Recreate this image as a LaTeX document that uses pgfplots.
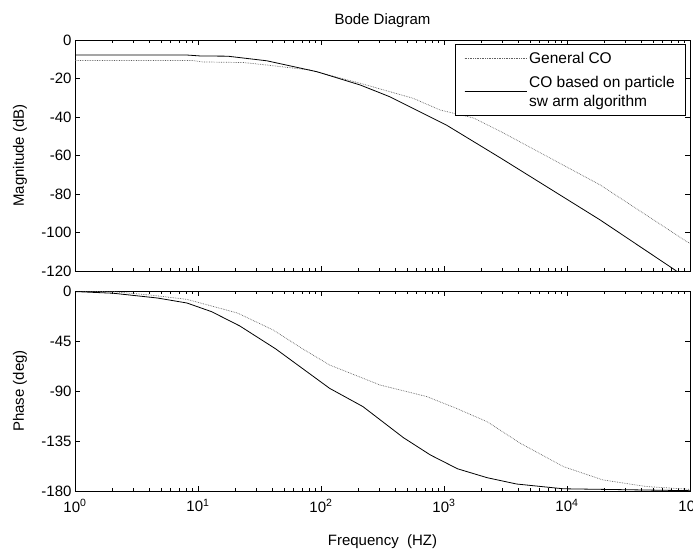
\documentclass[border=0pt]{standalone}
\usepackage{fontspec}
\setmainfont{Liberation Sans}
\usepackage{pgfplots}
\pgfplotsset{compat=1.18}
\begin{document}
\begin{tikzpicture}[x=1pt,y=1pt,font=\fontsize{15}{17}\selectfont]
\path[use as bounding box] (0,0) rectangle (693,-552);
% Magnitude
\begin{axis}[scale only axis, width=615pt, xmode=log, xmin=1, xmax=1e5,
  xtick={1,10,100,1000,10000,100000},
  tick align=inside, major tick length=5pt, minor tick length=3pt,
  axis line style={line width=0.8pt},
  every tick/.style={black, line width=0.5pt},
  tick label style={font=\fontsize{15}{17}\selectfont},
  label style={font=\fontsize{15}{17}\selectfont},
  ylabel style={at={(axis description cs:-0.0894,0.5)}, rotate=0, anchor=center},
  at={(75pt,-40pt)}, anchor=north west, height=231pt,
  ymin=-120, ymax=0, ytick={-120,-100,-80,-60,-40,-20,0},
  yticklabels={-120,-100,-80,-60,-40,-20,0},
  xticklabels={},
  ylabel={Magnitude (dB)},
  title={Bode Diagram},
  title style={at={(axis description cs:0.5,1.06)}, anchor=center, font=\fontsize{15}{17}\selectfont},
  legend style={at={(axis description cs:0.9935,0.983)}, anchor=north east, draw=black, line width=0.6pt,
    font=\fontsize{15.5}{19}\selectfont, cells={anchor=west, align=left}, row sep=7pt, inner xsep=9pt, inner ysep=6pt},
  legend image code/.code={\path (0pt,0pt) -- (62pt,0pt); \draw[#1] (0pt,0pt) -- (54pt,0pt);},
]
\addplot[gray!75!black, densely dotted, line width=0.7pt] coordinates {
(1,-10.7) (9.1,-10.7) (11,-11.4) (23.4,-11.7) (36.3,-13) (81,-15.6) (209,-22.5)
(562,-30.3) (933,-36.4) (1738,-40.5) (2884,-47.5) (18620,-75.3) (95500,-105) (100000,-105.5)};
\addlegendentry{General CO}
\addplot[black, line width=0.8pt] coordinates {
(1,-7.8) (8.1,-7.8) (10.5,-8.3) (17.4,-8.4) (36.3,-10.8) (93,-16.5) (209,-23.4)
(363,-29.5) (1047,-44.2) (2884,-61.3) (18620,-93.5) (77600,-120)};
\addlegendentry{CO based on particle\\sw arm algorithm}
\end{axis}
% Phase
\begin{axis}[scale only axis, width=615pt, xmode=log, xmin=1, xmax=1e5,
  xtick={1,10,100,1000,10000,100000},
  tick align=inside, major tick length=5pt, minor tick length=3pt,
  axis line style={line width=0.8pt},
  every tick/.style={black, line width=0.5pt},
  tick label style={font=\fontsize{15}{17}\selectfont},
  label style={font=\fontsize{15}{17}\selectfont},
  ylabel style={at={(axis description cs:-0.0894,0.5)}, rotate=0, anchor=center},
  xticklabel style={yshift=-5pt},
  at={(75pt,-291pt)}, anchor=north west, height=200pt,
  ymin=-180, ymax=0, ytick={-180,-135,-90,-45,0},
  yticklabels={-180,-135,-90,-45,0},
  xticklabels={10\textsuperscript{0},10\textsuperscript{1},10\textsuperscript{2},10\textsuperscript{3},10\textsuperscript{4},10\textsuperscript{5}},
  ylabel={Phase (deg)},
  xlabel={Frequency \ (HZ)},
  xlabel style={at={(axis description cs:0.5,-0.255)}, anchor=center},
]
\addplot[gray!75!black, densely dotted, line width=0.7pt] coordinates {
(1,-0.3) (2.04,-0.6) (4.07,-3.6) (8.13,-7.5) (20.9,-19.8) (40.7,-35) (70.8,-52)
(117.5,-66.6) (302,-84.6) (724,-95) (1259,-105.6) (2239,-117.6) (4169,-137)
(9333,-158) (19500,-170) (44670,-176) (100000,-178.5)};
\addplot[black, line width=0.8pt] coordinates {
(1,-0.5) (2.04,-2) (4.68,-6.3) (8.13,-10.8) (12.9,-18.6) (21.9,-31.5) (42.7,-52)
(117.5,-87.6) (219,-104) (468,-132) (776,-147.6) (1288,-160) (2239,-168)
(3890,-173.7) (9333,-178) (100000,-179.7)};
\end{axis}
\end{tikzpicture}
\end{document}
